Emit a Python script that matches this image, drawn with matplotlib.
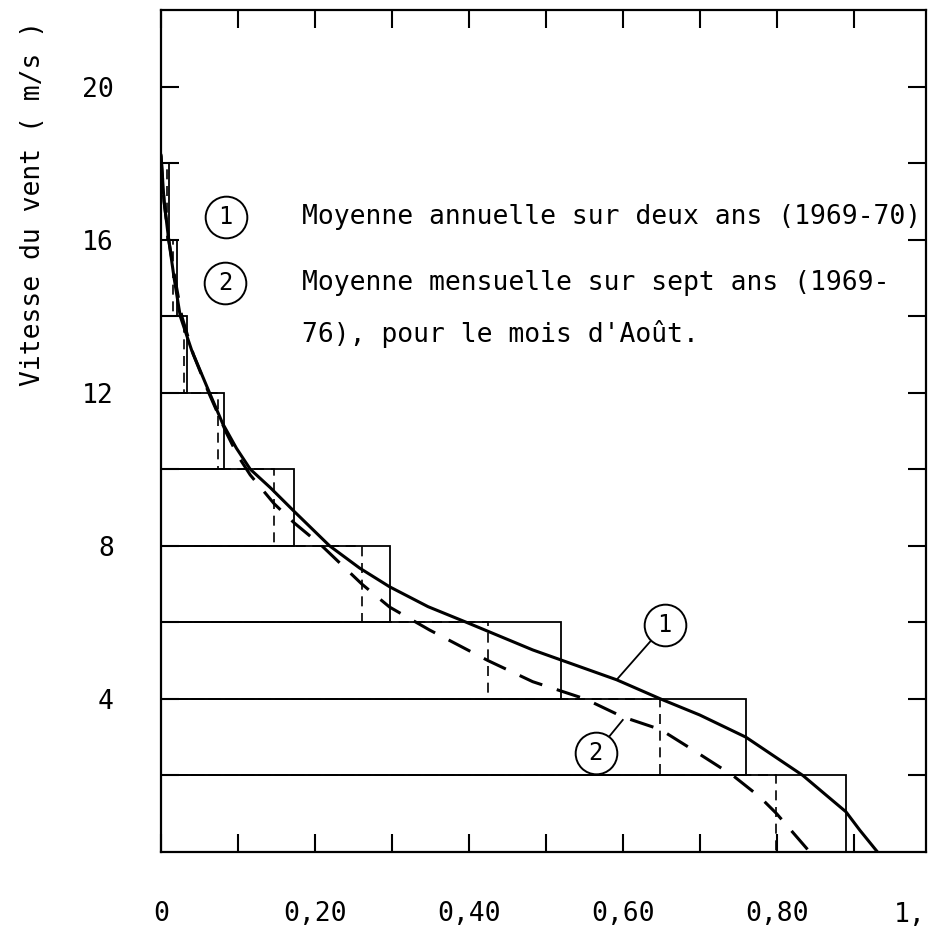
import matplotlib.pyplot as plt

# Data
speed_edges = [0, 2, 4, 6, 8, 10, 12, 14, 16]
freq_annual = [0.89, 0.76, 0.52, 0.297, 0.173, 0.082, 0.034, 0.021, 0.010]
freq_august = [0.799, 0.649, 0.425, 0.261, 0.147, 0.074, 0.030, 0.015, 0.008]

curve1_x = [0.000, 0.004, 0.010, 0.017, 0.025, 0.040, 0.063, 0.080, 0.098, 0.116, 0.142,
            0.173, 0.219, 0.258, 0.297, 0.347, 0.397, 0.483, 0.592, 0.649, 0.700,
            0.760, 0.834, 0.864, 0.890, 0.908, 0.931]
curve1_v = [18.2, 17.0, 16.0, 15.0, 14.0, 13.1, 12.0, 11.2, 10.55, 10.0, 9.52,
            8.9, 8.0, 7.42, 6.93, 6.41, 6.0, 5.28, 4.5, 4.0, 3.58,
            3.0, 2.0, 1.49, 1.05, 0.57, 0.0]

curve2_x = [0.000, 0.004, 0.010, 0.018, 0.027, 0.042, 0.062, 0.085, 0.100, 0.116, 0.147,
            0.173, 0.209, 0.261, 0.297, 0.349, 0.425, 0.483, 0.551, 0.600, 0.649,
            0.691, 0.743, 0.778, 0.800, 0.843]
curve2_v = [18.2, 17.0, 16.0, 15.0, 14.0, 13.0, 12.0, 10.95, 10.35, 9.85, 9.1,
            8.6, 8.0, 7.0, 6.4, 5.8, 5.0, 4.45, 4.0, 3.53, 3.2,
            2.67, 2.0, 1.44, 1.0, 0.0]

x_ticks = [0, 0.1, 0.2, 0.3, 0.4, 0.5, 0.6, 0.7, 0.8, 0.9]
x_labels = ["0", "", "0,20", "", "0,40", "", "0,60", "", "0,80", ""]
y_ticks = [2, 4, 6, 8, 10, 12, 14, 16, 18, 20]
y_labels = ["", "4", "", "8", "", "12", "", "16", "", "20"]

legend_lines = ["Moyenne annuelle sur deux ans (1969-70)",
                "Moyenne mensuelle sur sept ans (1969-",
                "76), pour le mois d'Août."]

plt.rcParams['font.family'] = ['DejaVu Sans Mono']
FS = 19

fig = plt.figure(figsize=(9.33, 9.31), dpi=100)
ax = fig.add_axes([161/933, 1 - 852/931, (926 - 161)/933, (852 - 10)/931])

# histogram steps
ax.barh(speed_edges, freq_annual, height=2, align='edge', left=0,
        fill=False, edgecolor='black', linewidth=1.3)
ax.barh(speed_edges, freq_august, height=2, align='edge', left=0,
        fill=False, edgecolor='black', linewidth=1.2, linestyle=(0, (6, 4)))

# fitted curves
ax.plot(curve1_x, curve1_v, color='black', linewidth=2.2)
ax.plot(curve2_x, curve2_v, color='black', linewidth=2.2, linestyle=(0, (8, 5)))

# circled labels with leaders
ax.plot([0.6545, 0.592], [5.93, 4.5], color='black', linewidth=1.3)
ax.plot([0.565, 0.60], [2.59, 3.45], color='black', linewidth=1.3)
for cx, cy, lab in [(0.6545, 5.93, "1"), (0.565, 2.59, "2"),
                    (0.084, 16.6, "1"), (0.083, 14.88, "2")]:
    ax.plot([cx], [cy], marker='o', markersize=30, mfc='white', mec='black',
            mew=1.4, zorder=5)
    ax.text(cx, cy, lab, ha='center', va='center', fontsize=FS - 2, zorder=6)

for yy, line in zip([16.6, 14.88, 13.53], legend_lines):
    ax.text(0.183, yy, line, ha='left', va='center', fontsize=FS)

ax.set_xlim(0, 0.994)
ax.set_ylim(0, 22)
ax.set_xticks(x_ticks, x_labels)
ax.set_yticks(y_ticks, y_labels)
ax.tick_params(axis='both', direction='in', length=13, width=1.5,
               top=True, right=True, labelsize=FS)
ax.tick_params(axis='y', pad=34)
ax.tick_params(axis='x', pad=35)
ax.text(1.0, -0.075, "1,", transform=ax.transAxes, ha='right', va='center',
        fontsize=FS)
for s in ax.spines.values():
    s.set_linewidth(1.6)

fig.text(33/933, 1 - 203/931, "Vitesse du vent ( m/s )", rotation=90,
         ha='center', va='center', fontsize=FS)

fig.savefig("out.png", dpi=100)
